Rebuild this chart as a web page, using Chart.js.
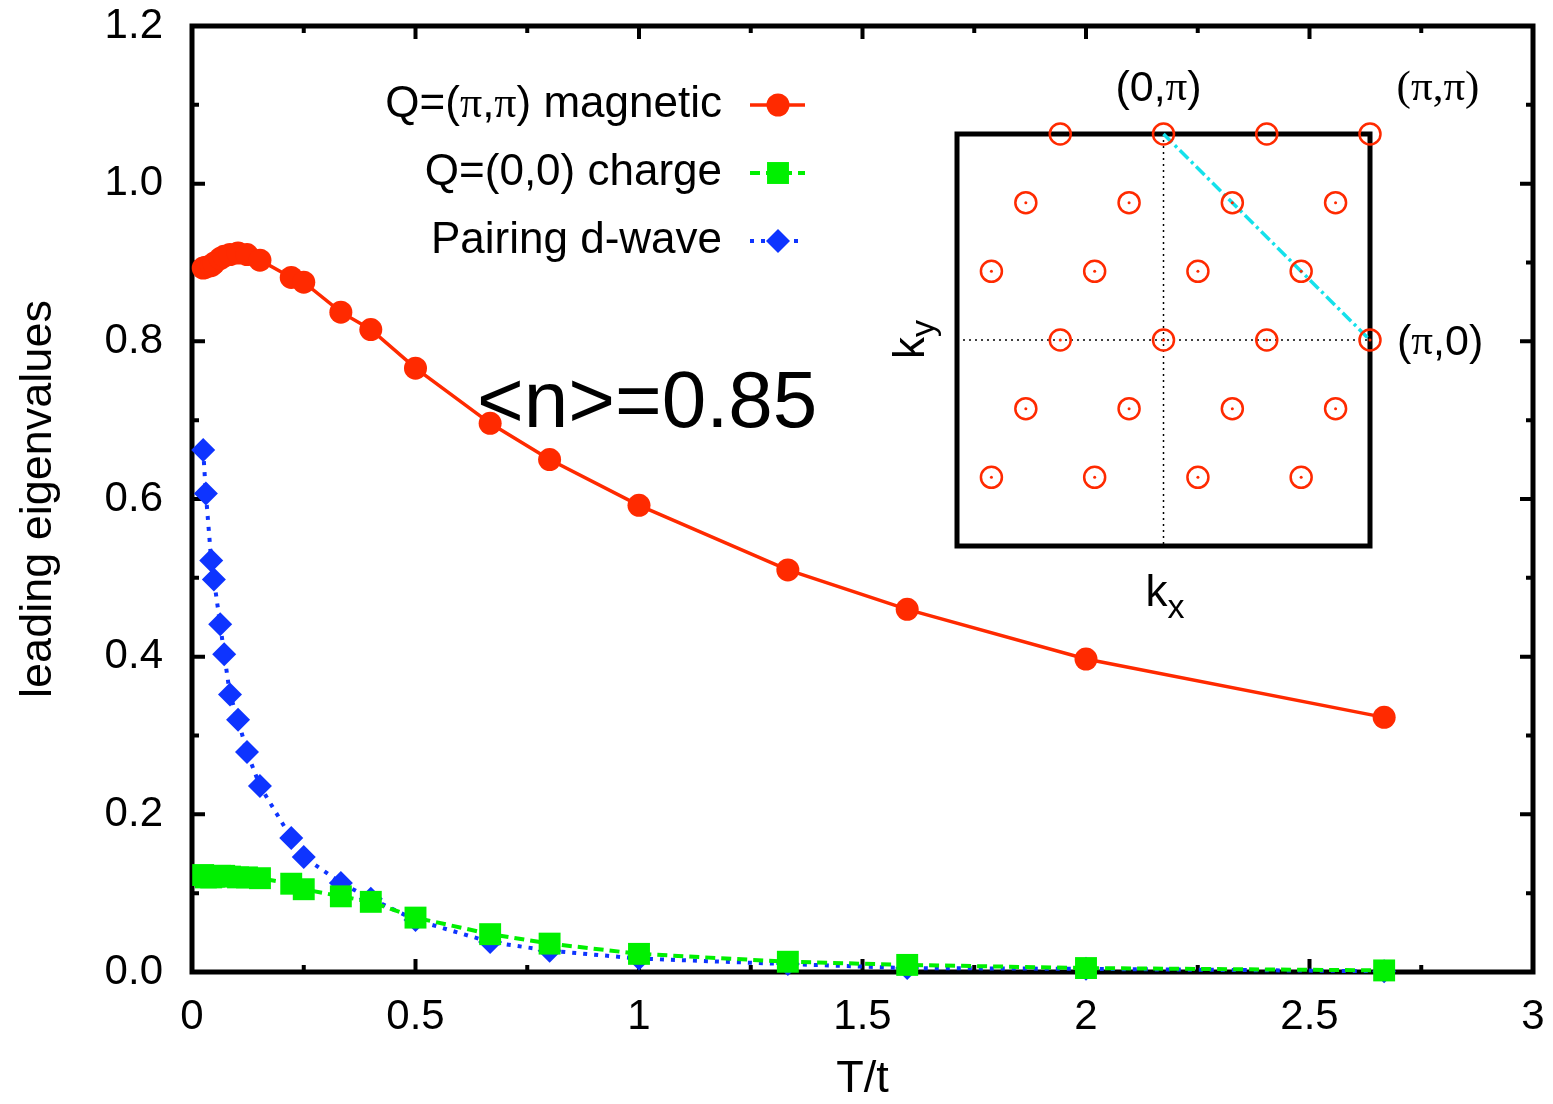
<!DOCTYPE html>
<html>
<head>
<meta charset="utf-8">
<script src="https://cdn.jsdelivr.net/npm/chart.js@4.4.0/dist/chart.umd.min.js"></script>
<style>
  html, body { margin: 0; padding: 0; background: #fff; }
  #wrap { position: relative; width: 1553px; height: 1104px; }
  #wrap canvas { position: absolute; left: 0; top: 0; }
</style>
</head>
<body>
<div id="wrap">
  <canvas id="mainChart" width="1553" height="1104"></canvas>
  <canvas id="insetChart" width="1553" height="1104"></canvas>
</div>
<script>
// Temperatures (T/t) shared by the three curves
const temps = [0.025, 0.031, 0.043, 0.049, 0.063, 0.072, 0.085, 0.103, 0.123, 0.152,
  0.222, 0.25, 0.333, 0.4, 0.5, 0.667, 0.8, 1.0, 1.333, 1.6, 2.0, 2.667];

// Leading eigenvalues
const magnetic = [0.893, 0.894, 0.896, 0.899, 0.905, 0.908, 0.910, 0.912, 0.910, 0.903,
  0.881, 0.875, 0.837, 0.815, 0.766, 0.696, 0.650, 0.592, 0.510, 0.460, 0.397, 0.323];
const charge = [0.123, 0.120, 0.120, 0.121, 0.122, 0.122, 0.121, 0.120, 0.120, 0.119,
  0.112, 0.105, 0.096, 0.089, 0.069, 0.048, 0.036, 0.023, 0.013, 0.009, 0.005, 0.002];
const pairing = [0.662, 0.607, 0.522, 0.498, 0.441, 0.403, 0.352, 0.320, 0.279, 0.236,
  0.170, 0.146, 0.113, 0.093, 0.066, 0.038, 0.027, 0.017, 0.010, 0.005, 0.004, 0.001];

const seriesNames = ["Q=(π,π) magnetic", "Q=(0,0) charge", "Pairing d-wave"];

const xTicks = [0, 0.5, 1, 1.5, 2, 2.5, 3];
const yTicks = [0, 0.2, 0.4, 0.6, 0.8, 1.0, 1.2];

// Inset: cluster k-points, in units of pi/6
const kx = [-3, 0, 3, 6, -4, -1, 2, 5, -5, -2, 1, 4, -3, 0, 3, 6, -4, -1, 2, 5, -5, -2, 1, 4];
const ky = [6, 6, 6, 6, 4, 4, 4, 4, 2, 2, 2, 2, 0, 0, 0, 0, -2, -2, -2, -2, -4, -4, -4, -4];

const RED = 'rgb(255,42,0)';
const GREEN = 'rgb(0,240,0)';
const BLUE = 'rgb(14,52,255)';
const CYAN = 'rgb(20,225,235)';
const SANS = 'Liberation Sans';
const SERIF = 'Liberation Serif';

Chart.defaults.font.family = SANS;
Chart.defaults.color = '#000';

function toPoints(xs, ys) {
  return xs.map((x, i) => ({ x: x, y: ys[i] }));
}

// draw a string made of parts in different fonts
function drawRich(ctx, parts, x, y, align, size) {
  let total = 0;
  parts.forEach(p => {
    ctx.font = size + 'px "' + p[1] + '"';
    total += ctx.measureText(p[0]).width;
  });
  let cx = align === 'right' ? x - total : (align === 'center' ? x - total / 2 : x);
  ctx.textAlign = 'left';
  parts.forEach(p => {
    ctx.font = size + 'px "' + p[1] + '"';
    ctx.fillText(p[0], cx, y);
    cx += ctx.measureText(p[0]).width;
  });
}

// splits a label so that pi is set in the serif font
function piParts(text) {
  return text.split(/(π)/).filter(s => s.length).map(s => [s, s === 'π' ? SERIF : SANS]);
}

// Frame with inward ticks on all four sides
const framePlugin = {
  id: 'frame',
  beforeDatasetsDraw(chart) {
    const { ctx, chartArea: a, scales: { x, y } } = chart;
    ctx.save();
    ctx.strokeStyle = '#000';
    ctx.lineWidth = 4;
    ctx.beginPath();
    x.ticks.forEach((t, i) => {
      const px = x.getPixelForValue(t.value);
      ctx.moveTo(px, a.bottom); ctx.lineTo(px, a.bottom - 13);
      ctx.moveTo(px, a.top); ctx.lineTo(px, a.top + 13);
      if (i < x.ticks.length - 1) {
        const mx = x.getPixelForValue((t.value + x.ticks[i + 1].value) / 2);
        ctx.moveTo(mx, a.bottom); ctx.lineTo(mx, a.bottom - 7);
        ctx.moveTo(mx, a.top); ctx.lineTo(mx, a.top + 7);
      }
    });
    y.ticks.forEach((t, i) => {
      const py = y.getPixelForValue(t.value);
      ctx.moveTo(a.left, py); ctx.lineTo(a.left + 13, py);
      ctx.moveTo(a.right, py); ctx.lineTo(a.right - 13, py);
      if (i < y.ticks.length - 1) {
        const my = y.getPixelForValue((t.value + y.ticks[i + 1].value) / 2);
        ctx.moveTo(a.left, my); ctx.lineTo(a.left + 7, my);
        ctx.moveTo(a.right, my); ctx.lineTo(a.right - 7, my);
      }
    });
    ctx.stroke();
    ctx.lineWidth = 5;
    ctx.strokeRect(a.left, a.top, a.width, a.height);
    ctx.restore();
  }
};

// Legend (text right aligned, sample on the right) and the density label
const legendPlugin = {
  id: 'customLegend',
  afterDraw(chart) {
    const ctx = chart.ctx;
    const rows = [105, 173, 241];
    ctx.save();
    ctx.textBaseline = 'middle';
    chart.data.datasets.forEach((ds, i) => {
      const yy = rows[i];
      ctx.fillStyle = '#000';
      drawRich(ctx, piParts(ds.label), 722, yy, 'right', 44);
      ctx.strokeStyle = ds.borderColor;
      ctx.lineWidth = ds.borderWidth;
      ctx.setLineDash(ds.borderDash || []);
      ctx.beginPath();
      ctx.moveTo(750, yy);
      ctx.lineTo(805, yy);
      ctx.stroke();
      ctx.setLineDash([]);
      ctx.fillStyle = ds.pointBackgroundColor;
      Chart.helpers.drawPoint(ctx, {
        pointStyle: ds.pointStyle, radius: ds.pointRadius, rotation: 0, borderWidth: 0
      }, 778, yy);
    });
    ctx.fillStyle = '#000';
    ctx.textBaseline = 'alphabetic';
    ctx.textAlign = 'left';
    ctx.font = '80px "' + SANS + '"';
    ctx.fillText('<n>=0.85', 477, 427);
    ctx.restore();
  }
};

const mainChart = new Chart(document.getElementById('mainChart'), {
  type: 'scatter',
  data: {
    datasets: [
      {
        label: seriesNames[0],
        data: toPoints(temps, magnetic),
        showLine: true,
        borderColor: RED,
        borderWidth: 3.5,
        pointStyle: 'circle',
        pointRadius: 11.5,
        pointBackgroundColor: RED,
        pointBorderWidth: 0,
        clip: false
      },
      {
        label: seriesNames[1],
        data: toPoints(temps, charge),
        showLine: true,
        borderColor: GREEN,
        borderWidth: 4,
        borderDash: [10, 6],
        pointStyle: 'rect',
        pointRadius: 15.5,
        pointBackgroundColor: GREEN,
        pointBorderWidth: 0,
        clip: false
      },
      {
        label: seriesNames[2],
        data: toPoints(temps, pairing),
        showLine: true,
        borderColor: BLUE,
        borderWidth: 4,
        borderDash: [4, 7],
        pointStyle: 'rectRot',
        pointRadius: 12,
        pointBackgroundColor: BLUE,
        pointBorderWidth: 0,
        clip: false
      }
    ]
  },
  options: {
    responsive: false,
    animation: false,
    layout: { padding: { top: 26, right: 20, left: 0, bottom: 0 } },
    plugins: { legend: { display: false }, tooltip: { enabled: false } },
    scales: {
      x: {
        type: 'linear',
        min: 0,
        max: 3,
        afterBuildTicks: s => { s.ticks = xTicks.map(v => ({ value: v })); },
        ticks: { font: { size: 42 }, padding: 20, maxRotation: 0,
          callback: v => String(v) },
        grid: { display: false, drawTicks: false },
        border: { display: false },
        title: { display: true, text: 'T/t', font: { size: 45, lineHeight: 1.1 },
          padding: { top: 0, bottom: 0 } },
        afterFit: s => { s.height = 132; s.paddingLeft = 0; s.paddingRight = 0; }
      },
      y: {
        type: 'linear',
        min: 0,
        max: 1.2,
        afterBuildTicks: s => { s.ticks = yTicks.map(v => ({ value: v })); },
        ticks: { font: { size: 42 }, padding: 29, callback: v => v.toFixed(1) },
        grid: { display: false, drawTicks: false },
        border: { display: false },
        title: { display: true, text: 'leading eigenvalues', font: { size: 45, lineHeight: 1.2 },
          padding: { top: 12, bottom: 0 } },
        afterFit: s => { s.width = 192; s.paddingTop = 0; s.paddingBottom = 0; }
      }
    }
  },
  plugins: [framePlugin, legendPlugin]
});

// Inset: box, axis labels and corner labels
const insetPlugin = {
  id: 'insetFrame',
  beforeDatasetsDraw(chart) {
    const { ctx, chartArea: a } = chart;
    ctx.save();
    ctx.strokeStyle = '#000';
    ctx.lineWidth = 5;
    ctx.strokeRect(a.left, a.top, a.width, a.height);
    ctx.restore();
  },
  afterDraw(chart) {
    const { ctx, chartArea: a, scales: { x, y } } = chart;
    ctx.save();
    ctx.fillStyle = '#000';
    ctx.textBaseline = 'middle';
    drawRich(ctx, piParts('(0,π)'), x.getPixelForValue(0) - 5, a.top - 45, 'center', 43);
    drawRich(ctx, [['(π,π)', SERIF]], a.right + 68, a.top - 45, 'center', 43);
    drawRich(ctx, piParts('(π,0)'), a.right + 27, y.getPixelForValue(0) + 3, 'left', 43);
    // k_x
    ctx.textBaseline = 'alphabetic';
    ctx.textAlign = 'left';
    ctx.font = '44px "' + SANS + '"';
    const kxLeft = x.getPixelForValue(0) - 18;
    ctx.fillText('k', kxLeft, 606);
    const kw = ctx.measureText('k').width;
    ctx.font = '34px "' + SANS + '"';
    ctx.fillText('x', kxLeft + kw, 618);
    // k_y, rotated
    ctx.translate(924, y.getPixelForValue(0) + 19);
    ctx.rotate(-Math.PI / 2);
    ctx.font = '44px "' + SANS + '"';
    ctx.fillText('k', 0, 0);
    ctx.font = '34px "' + SANS + '"';
    ctx.fillText('y', kw, 10);
    ctx.restore();
  }
};

const kPoints = toPoints(kx, ky);
const kDots = kPoints.filter(p => p.y !== 6);

new Chart(document.getElementById('insetChart'), {
  type: 'scatter',
  data: {
    datasets: [
      {
        data: kPoints,
        pointStyle: 'circle',
        pointRadius: 10.5,
        pointBorderColor: RED,
        pointBorderWidth: 2.5,
        pointBackgroundColor: 'rgba(0,0,0,0)',
        clip: false,
        order: 0
      },
      {
        data: kDots,
        pointStyle: 'circle',
        pointRadius: 1.5,
        pointBorderWidth: 0,
        pointBackgroundColor: RED,
        clip: false,
        order: 0
      },
      {
        data: [{ x: 0, y: 6 }, { x: 0, y: -6 }],
        showLine: true,
        borderColor: '#000',
        borderWidth: 1.5,
        borderDash: [2, 4],
        pointRadius: 0,
        clip: false,
        order: 2
      },
      {
        data: [{ x: -6, y: 0 }, { x: 6, y: 0 }],
        showLine: true,
        borderColor: '#000',
        borderWidth: 1.5,
        borderDash: [2, 4],
        pointRadius: 0,
        clip: false,
        order: 2
      },
      {
        data: [{ x: 0, y: 6 }, { x: 6, y: 0 }],
        showLine: true,
        borderColor: CYAN,
        borderWidth: 3.5,
        borderDash: [12, 4, 3, 4],
        pointRadius: 0,
        clip: false,
        order: 1
      }
    ]
  },
  options: {
    responsive: false,
    animation: false,
    layout: { padding: { left: 957, top: 134, right: 183, bottom: 558 } },
    plugins: { legend: { display: false }, tooltip: { enabled: false } },
    scales: {
      x: { type: 'linear', min: -6, max: 6, display: false },
      y: { type: 'linear', min: -6, max: 6, display: false }
    }
  },
  plugins: [insetPlugin]
});
</script>
</body>
</html>
